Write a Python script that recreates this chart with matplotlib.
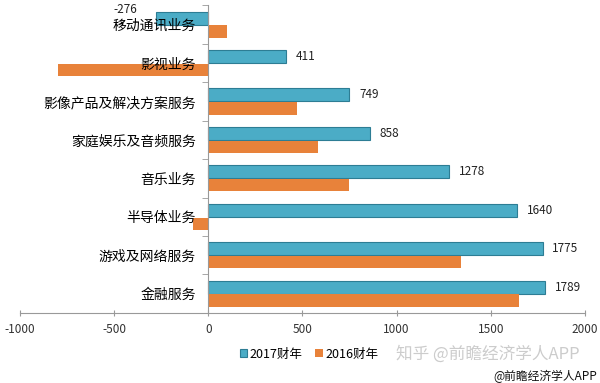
import matplotlib
matplotlib.use("Agg")
import matplotlib.pyplot as plt
import numpy as np

plt.rcParams['font.family'] = ['Noto Sans CJK SC', 'DejaVu Sans']

categories = ['移动通讯业务', '影视业务', '影像产品及解决方案服务', '家庭娱乐及音频服务',
              '音乐业务', '半导体业务', '游戏及网络服务', '金融服务']
fy2017 = [-276, 411, 749, 858, 1278, 1640, 1775, 1789]
fy2016 = [100, -795, 472, 584, 748, -80, 1342, 1650]
series_names = ['2017财年', '2016财年']
xticks = [-1000, -500, 0, 500, 1000, 1500, 2000]

blue = '#4bacc6'
orange = '#e8823a'

fig = plt.figure(figsize=(6, 3.83), dpi=100)
ax = fig.add_axes([0.033, 0.183, 0.942, 0.805])

y = np.arange(len(categories))
b1 = ax.barh(y - 0.17, fy2017, height=0.34, color=blue, edgecolor='#2d7d94', linewidth=0.8,
             label=series_names[0])
b2 = ax.barh(y + 0.18, fy2016, height=0.32, color=orange, edgecolor='none',
             label=series_names[1])

# value labels on the 2017 bars only
for yi, v in zip(y, fy2017):
    if v < 0:
        ax.annotate(str(v), (v, yi - 0.17), xytext=(-14, 6), textcoords='offset points',
                    ha='right', va='center', fontsize=8.5, color='#222222')
    else:
        ax.annotate(str(v), (v, yi - 0.17), xytext=(7, 0), textcoords='offset points',
                    ha='left', va='center', fontsize=8.5, color='#222222')

ax.set_xlim(-1000, 2000)
ax.set_ylim(7.45, -0.52)
ax.set_xticks(xticks)
ax.set_xticklabels([str(t) for t in xticks], fontsize=8.5, color='#333333')
ax.set_yticks(y)
ax.set_yticklabels(categories, fontsize=7.8, color='#222222')
ax.set_yticks(np.arange(-0.5, len(categories)), minor=True)
ax.tick_params(axis='y', which='major', length=0, pad=9)
ax.tick_params(axis='y', which='minor', length=4, color='#999999', direction='out')
ax.tick_params(axis='x', length=4, color='#999999', direction='inout', pad=5)

ax.spines['left'].set_position(('data', 0))
ax.spines['left'].set_color('#999999')
ax.spines['bottom'].set_color('#999999')
ax.spines['top'].set_visible(False)
ax.spines['right'].set_visible(False)

fig.legend(handles=[b1, b2], labels=series_names, loc='center', bbox_to_anchor=(0.515, 0.075),
           ncol=2, frameon=False, fontsize=9, handlelength=0.6, handleheight=0.6,
           columnspacing=1.0, handletextpad=0.2)

fig.text(0.66, 0.075, '知乎 @前瞻经济学人APP', fontsize=12, color='#cccccc', va='center')
fig.text(0.995, 0.018, '@前瞻经济学人APP', fontsize=8.5, color='#111111', ha='right', va='center')

fig.savefig('out.png', dpi=100)
